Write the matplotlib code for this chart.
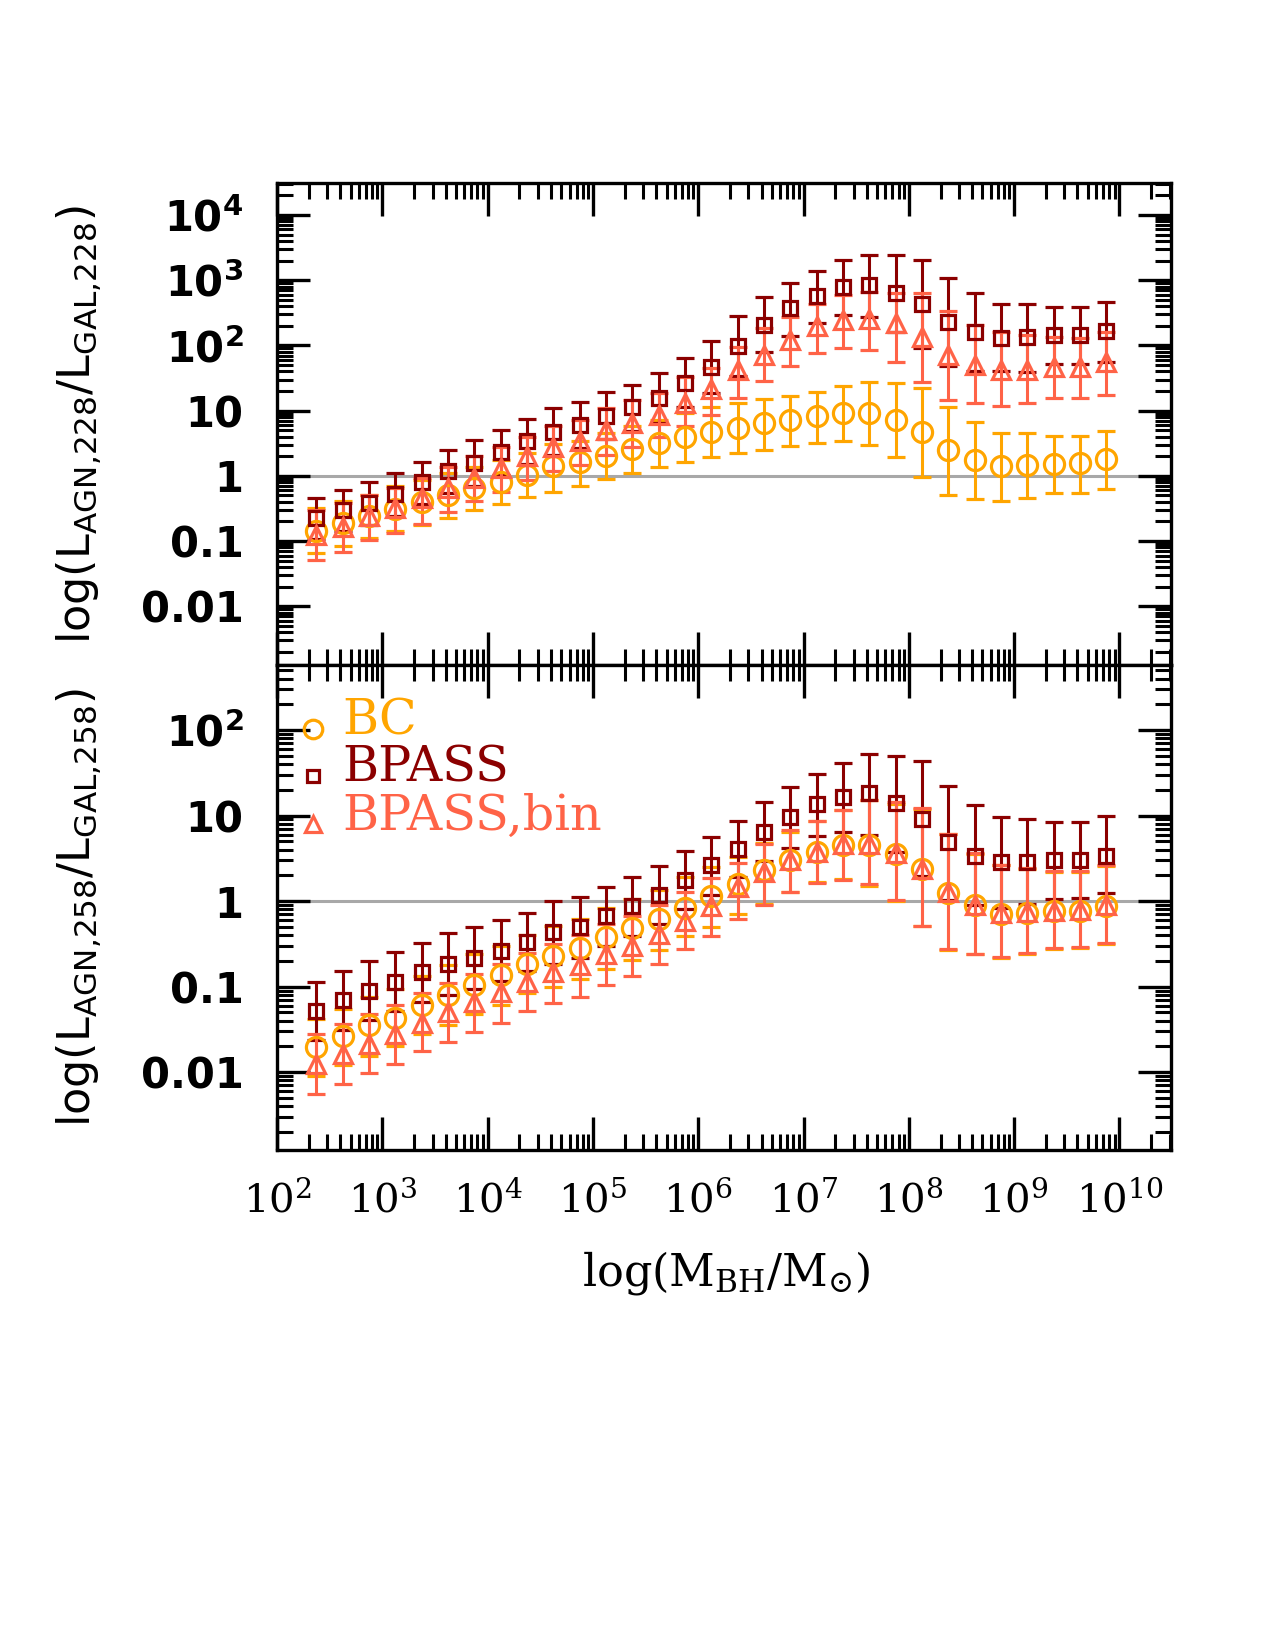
import numpy as np
import matplotlib
matplotlib.use('Agg')
import matplotlib.pyplot as plt
from matplotlib.ticker import LogLocator, NullFormatter

# ---------------- data (log10 values) ----------------
log_mbh = [2.375, 2.625, 2.875, 3.125, 3.375, 3.625, 3.875, 4.125, 4.375, 4.625,
           4.875, 5.125, 5.375, 5.625, 5.875, 6.125, 6.375, 6.625, 6.875, 7.125,
           7.375, 7.625, 7.875, 8.125, 8.375, 8.625, 8.875, 9.125, 9.375, 9.625, 9.875]

# top panel: L_AGN,228 / L_GAL,228
bc_top = [-0.84, -0.72, -0.62, -0.51, -0.40, -0.29, -0.19, -0.10, 0.02, 0.15, 0.21, 0.31, 0.41, 0.50, 0.60, 0.67,
          0.73, 0.81, 0.86, 0.92, 0.96, 0.97, 0.86, 0.67, 0.40, 0.25, 0.15, 0.17, 0.18, 0.19, 0.26]
bc_top_hi = [-0.50, -0.39, -0.29, -0.16, -0.06, 0.04, 0.14, 0.25, 0.35, 0.49, 0.54, 0.65, 0.76, 0.86, 0.97, 1.06,
             1.11, 1.18, 1.22, 1.29, 1.37, 1.44, 1.43, 1.34, 1.06, 0.82, 0.66, 0.65, 0.61, 0.61, 0.69]
bc_top_lo = [-1.18, -1.07, -0.95, -0.85, -0.75, -0.65, -0.53, -0.43, -0.33, -0.24, -0.15, -0.05, 0.04, 0.13, 0.22, 0.29,
             0.35, 0.40, 0.46, 0.51, 0.54, 0.47, 0.29, -0.01, -0.29, -0.36, -0.38, -0.34, -0.27, -0.26, -0.20]

bp_top = [-0.65, -0.52, -0.42, -0.28, -0.10, 0.07, 0.20, 0.36, 0.53, 0.68, 0.78, 0.92, 1.05, 1.19, 1.43, 1.67,
          1.99, 2.32, 2.58, 2.76, 2.90, 2.92, 2.81, 2.63, 2.36, 2.21, 2.11, 2.13, 2.16, 2.16, 2.22]
bp_top_hi = [-0.34, -0.21, -0.09, 0.04, 0.22, 0.40, 0.55, 0.70, 0.87, 1.04, 1.13, 1.28, 1.39, 1.57, 1.80, 2.07,
             2.45, 2.74, 2.96, 3.14, 3.31, 3.38, 3.39, 3.31, 3.03, 2.80, 2.64, 2.63, 2.59, 2.59, 2.67]
bp_top_lo = [-0.97, -0.84, -0.76, -0.61, -0.43, -0.27, -0.15, 0.01, 0.18, 0.32, 0.42, 0.56, 0.69, 0.81, 1.05, 1.27,
             1.53, 1.90, 2.15, 2.34, 2.46, 2.44, 2.21, 1.96, 1.68, 1.61, 1.60, 1.59, 1.71, 1.72, 1.75]

bb_top = [-0.90, -0.78, -0.62, -0.50, -0.34, -0.19, -0.04, 0.12, 0.30, 0.45, 0.53, 0.70, 0.81, 0.93, 1.11, 1.33,
          1.62, 1.85, 2.08, 2.29, 2.39, 2.41, 2.34, 2.13, 1.85, 1.70, 1.62, 1.63, 1.67, 1.67, 1.74]
bb_top_hi = [-0.52, -0.42, -0.29, -0.19, -0.04, 0.14, 0.30, 0.45, 0.60, 0.76, 0.86, 1.04, 1.16, 1.27, 1.52, 1.66,
             1.98, 2.26, 2.44, 2.64, 2.77, 2.82, 2.80, 2.80, 2.52, 2.31, 2.21, 2.16, 2.13, 2.11, 2.21]
bb_top_lo = [-1.29, -1.16, -0.98, -0.87, -0.74, -0.55, -0.39, -0.24, -0.06, 0.07, 0.17, 0.32, 0.45, 0.60, 0.76, 0.93,
             1.19, 1.46, 1.68, 1.88, 1.96, 1.93, 1.74, 1.44, 1.17, 1.11, 1.07, 1.12, 1.19, 1.19, 1.24]

# bottom panel: L_AGN,258 / L_GAL,258
bc_bot = [-1.71, -1.58, -1.45, -1.37, -1.22, -1.10, -0.98, -0.86, -0.74, -0.64, -0.55, -0.42, -0.32, -0.21, -0.08, 0.06,
          0.20, 0.36, 0.48, 0.57, 0.65, 0.66, 0.55, 0.37, 0.10, -0.05, -0.15, -0.14, -0.12, -0.12, -0.06]
bc_bot_hi = [-1.38, -1.26, -1.12, -1.03, -0.88, -0.75, -0.62, -0.52, -0.40, -0.29, -0.21, -0.08, 0.03, 0.13, 0.28, 0.40,
             0.52, 0.68, 0.81, 0.94, 1.06, 1.18, 1.14, 1.08, 0.79, 0.55, 0.42, 0.38, 0.34, 0.34, 0.41]
bc_bot_lo = [-2.04, -1.92, -1.81, -1.70, -1.55, -1.45, -1.32, -1.21, -1.08, -1.00, -0.91, -0.79, -0.69, -0.57, -0.41, -0.30,
             -0.15, -0.03, 0.11, 0.22, 0.26, 0.18, 0.00, -0.29, -0.57, -0.62, -0.67, -0.62, -0.56, -0.55, -0.50]

bp_bot = [-1.28, -1.16, -1.05, -0.95, -0.83, -0.73, -0.66, -0.58, -0.48, -0.36, -0.30, -0.18, -0.06, 0.07, 0.25, 0.42,
          0.61, 0.81, 0.98, 1.13, 1.22, 1.26, 1.15, 0.96, 0.69, 0.53, 0.46, 0.46, 0.48, 0.48, 0.53]
bp_bot_hi = [-0.95, -0.82, -0.70, -0.60, -0.49, -0.37, -0.30, -0.22, -0.14, 0.00, 0.05, 0.16, 0.28, 0.41, 0.59, 0.75,
             0.94, 1.16, 1.33, 1.48, 1.62, 1.72, 1.70, 1.64, 1.35, 1.12, 0.98, 0.96, 0.92, 0.92, 0.99]
bp_bot_lo = [-1.62, -1.51, -1.39, -1.29, -1.18, -1.10, -1.03, -0.94, -0.82, -0.74, -0.66, -0.52, -0.41, -0.27, -0.09, 0.07,
             0.28, 0.47, 0.62, 0.76, 0.81, 0.77, 0.57, 0.29, 0.01, -0.05, -0.08, -0.03, 0.03, 0.04, 0.09]

bb_bot = [-1.90, -1.79, -1.67, -1.55, -1.42, -1.30, -1.18, -1.06, -0.95, -0.83, -0.75, -0.62, -0.52, -0.38, -0.23, -0.06,
          0.16, 0.34, 0.48, 0.57, 0.67, 0.67, 0.56, 0.38, 0.11, -0.05, -0.14, -0.13, -0.12, -0.11, -0.05]
bb_bot_hi = [-1.55, -1.44, -1.32, -1.22, -1.08, -0.96, -0.85, -0.73, -0.61, -0.50, -0.40, -0.27, -0.18, -0.05, 0.11, 0.27,
             0.44, 0.67, 0.83, 0.94, 1.07, 1.18, 1.16, 1.09, 0.79, 0.56, 0.42, 0.39, 0.35, 0.35, 0.42]
bb_bot_lo = [-2.25, -2.14, -2.01, -1.90, -1.75, -1.65, -1.53, -1.42, -1.28, -1.19, -1.12, -0.98, -0.87, -0.73, -0.56, -0.41,
             -0.21, -0.05, 0.11, 0.21, 0.25, 0.20, 0.01, -0.29, -0.56, -0.62, -0.65, -0.61, -0.55, -0.54, -0.49]

series_names = ['BC', 'BPASS', 'BPASS,bin']
series_colors = ['#FFA500', '#8B0000', '#FF6347']
series_markers = ['o', 's', '^']
series_ms = [14.5, 10, 13]

xtick_vals = [1e2, 1e3, 1e4, 1e5, 1e6, 1e7, 1e8, 1e9, 1e10]
xtick_labels = [r'$10^{2}$', r'$10^{3}$', r'$10^{4}$', r'$10^{5}$', r'$10^{6}$',
                r'$10^{7}$', r'$10^{8}$', r'$10^{9}$', r'$10^{10}$']
ytick_top_vals = [1e-2, 1e-1, 1, 10, 1e2, 1e3, 1e4]
ytick_top_labels = ['0.01', '0.1', '1', '10', r'$\mathbf{10^{2}}$', r'$\mathbf{10^{3}}$', r'$\mathbf{10^{4}}$']
ytick_bot_vals = [1e-2, 1e-1, 1, 10, 1e2]
ytick_bot_labels = ['0.01', '0.1', '1', '10', r'$\mathbf{10^{2}}$']

# ---------------- figure ----------------
W, H = 1275, 1650
fig = plt.figure(figsize=(W / 100, H / 100), dpi=100)
L, R = 277, 1171
ax1 = fig.add_axes([L / W, 1 - 665 / H, (R - L) / W, (665 - 183) / H])
ax2 = fig.add_axes([L / W, 1 - 1150 / H, (R - L) / W, (1150 - 665) / H])

x = 10 ** np.array(log_mbh)


def draw(ax, data):
    for (c, lo, hi), col, mk, ms in zip(data, series_colors, series_markers, series_ms):
        y = 10 ** np.array(c)
        ylo = 10 ** np.array(lo)
        yhi = 10 ** np.array(hi)
        ax.errorbar(x, y, yerr=[y - ylo, yhi - y], fmt=mk, mfc='none', mec=col, mew=2.3,
                    ms=ms, ecolor=col, elinewidth=2.2, capsize=6.8, capthick=2.6, zorder=3)


draw(ax1, [(bc_top, bc_top_lo, bc_top_hi), (bp_top, bp_top_lo, bp_top_hi), (bb_top, bb_top_lo, bb_top_hi)])
draw(ax2, [(bc_bot, bc_bot_lo, bc_bot_hi), (bp_bot, bp_bot_lo, bp_bot_hi), (bb_bot, bb_bot_lo, bb_bot_hi)])

ax1.set_ylim(10 ** -2.9, 10 ** 4.49)
ax2.set_ylim(10 ** -2.91, 10 ** 2.76)

for ax, yv, yl in [(ax1, ytick_top_vals, ytick_top_labels), (ax2, ytick_bot_vals, ytick_bot_labels)]:
    ax.set_xscale('log')
    ax.set_yscale('log')
    ax.set_xlim(1e2, 10 ** 10.49)
    ax.axhline(1, color='#a8a8a8', lw=2.2, zorder=1)
    ax.xaxis.set_minor_locator(LogLocator(base=10, subs=np.arange(2, 10) * 1.0, numticks=50))
    ax.yaxis.set_minor_locator(LogLocator(base=10, subs=np.arange(2, 10) * 1.0, numticks=50))
    ax.xaxis.set_minor_formatter(NullFormatter())
    ax.yaxis.set_minor_formatter(NullFormatter())
    ax.set_yticks(yv, yl, fontsize=30, fontweight='bold', math_fontfamily='dejavusans')
    ax.tick_params(which='major', direction='in', top=True, right=True, length=24, width=2.4, pad=24)
    ax.tick_params(which='minor', direction='in', top=True, right=True, length=11.5, width=2.2)
    for s in ax.spines.values():
        s.set_linewidth(2.4)

ax1.set_xticks(xtick_vals, [''] * len(xtick_vals))
ax2.set_xticks(xtick_vals, xtick_labels, fontsize=29, math_fontfamily='dejavuserif')
ax2.tick_params(axis='x', which='major', pad=22)

# legend (bottom panel, upper left)
leg_y = [0.8557, 0.7588, 0.6598]
for name, col, mk, ms, yy in zip(series_names, series_colors, series_markers, series_ms, leg_y):
    ax2.plot([0.040], [yy + 0.012], transform=ax2.transAxes, marker=mk, ls='none', mfc='none',
             mec=col, mew=2.3, ms=ms * 0.92, clip_on=False)
    ax2.text(0.073, yy, name, transform=ax2.transAxes, color=col, fontsize=35.5,
             family='DejaVu Serif', va='baseline', ha='left')

# axis labels
fig.text(79 / W, 1 - 425 / H, r'$\mathrm{log(L_{AGN{,}228}/L_{GAL{,}228})}$', rotation=90,
         ha='center', va='center', fontsize=32, math_fontfamily='dejavusans')
fig.text(79 / W, 1 - 908 / H, r'$\mathrm{log(L_{AGN{,}258}/L_{GAL{,}258})}$', rotation=90,
         ha='center', va='center', fontsize=32, math_fontfamily='dejavusans')
fig.text(726 / W, 1 - 1273 / H, r'$\mathrm{log(M_{BH}/M_{\odot})}$', ha='center', va='center',
         fontsize=32, math_fontfamily='dejavuserif')

fig.savefig('out.png', dpi=100)
